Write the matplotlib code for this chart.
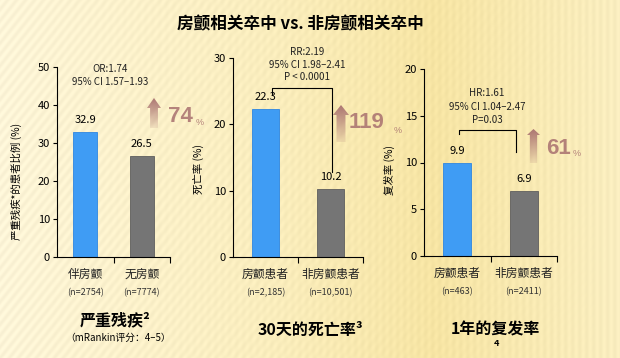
import numpy as np
import matplotlib
matplotlib.use("Agg")
import matplotlib.pyplot as plt
from matplotlib.patches import Polygon

plt.rcParams['font.family'] = ['Noto Sans CJK SC', 'DejaVu Sans']

W, H = 620, 358

TITLE = "房颤相关卒中 vs. 非房颤相关卒中"

# panel data
CATS_1 = ["伴房颤", "无房颤"]
N_1 = ["(n=2754)", "(n=7774)"]
VALS_1 = [32.9, 26.5]
CATS_2 = ["房颤患者", "非房颤患者"]
N_2 = ["(n=2,185)", "(n=10,501)"]
VALS_2 = [22.3, 10.2]
CATS_3 = ["房颤患者", "非房颤患者"]
N_3 = ["(n=463)", "(n=2411)"]
VALS_3 = [9.9, 6.9]

YLABELS = ["严重残疾*的患者比例 (%)", "死亡率 (%)", "复发率 (%)"]
YMAX = [50, 30, 20]
YSTEP = [10, 10, 5]
STATS = [["OR:1.74", "95% CI 1.57–1.93"],
         ["RR:2.19", "95% CI 1.98–2.41", "P < 0.0001"],
         ["HR:1.61", "95% CI 1.04–2.47", "P=0.03"]]
INCREASE = ["74", "119", "61"]

BLUE = "#3f9cf4"
GRAY = "#757575"
ROSE = "#a8706f"

fig = plt.figure(figsize=(W / 100, H / 100), dpi=100)

# background in pixel coordinates
bg = fig.add_axes([0, 0, 1, 1], zorder=-1)
bg.set_xlim(0, W)
bg.set_ylim(H, 0)
bg.axis("off")
xs = np.linspace(0, 1, W)
yy, xx = np.mgrid[0:H, 0:W]
stops = np.array([0, 0.45, 0.7, 1.0])
cols = np.array([[253, 245, 216], [250, 237, 188], [247, 229, 164], [250, 238, 192]]) / 255
img = np.stack([np.interp(xs, stops, cols[:, k]) for k in range(3)], axis=-1)
img = np.repeat(img[None, :, :], H, axis=0)
fx = xx / W
stripe = 0.02 * np.sin((xx + yy * 0.8) * 2 * np.pi / 9) * (1 - fx) \
    + 0.015 * np.sin(xx * 2 * np.pi / 7) * fx
img = np.clip(img + stripe[..., None], 0, 1)
bg.imshow(img, extent=(0, W, H, 0), aspect="auto")


def px(x, y):
    return x / W, 1 - y / H


fig.text(*px(300, 24), TITLE, ha="center", va="center", fontsize=12, fontweight="bold")


def up_arrow(x0, x1, top, neck, bottom):
    cx = (x0 + x1) / 2
    sw = (x1 - x0) * 0.28
    pts = [(cx, top), (x1, neck), (cx + sw, neck), (cx + sw, bottom),
           (cx - sw, bottom), (cx - sw, neck), (x0, neck)]
    poly = Polygon(pts, closed=True, facecolor="none", edgecolor="none")
    bg.add_patch(poly)
    grad = np.zeros((50, 2, 4))
    grad[..., :3] = matplotlib.colors.to_rgb(ROSE)
    grad[..., 3] = np.linspace(0.95, 0.15, 50)[:, None]
    im = bg.imshow(grad, extent=(x0, x1, bottom, top), aspect="auto")
    im.set_clip_path(poly)


def panel(rect, cats, ns, vals, ymax, ystep, ylabel, ylab_pos):
    left, top, right, bottom = rect
    ax = fig.add_axes([left / W, 1 - bottom / H, (right - left) / W, (bottom - top) / H])
    ax.patch.set_alpha(0)
    x = np.arange(len(vals))
    ax.bar(x, vals, width=0.42, color=[BLUE, GRAY], edgecolor=["#2f86e0", "#5e5e5e"], linewidth=0.6)
    ax.set_xlim(-0.5, 1.5)
    ax.set_ylim(0, ymax)
    ax.set_yticks(np.arange(0, ymax + 1, ystep))
    ax.tick_params(axis="y", labelsize=8, length=3, width=0.8, pad=2)
    ax.set_xticks(x)
    ax.set_xticklabels([])
    ax.tick_params(axis="x", which="major", length=0)
    ax.set_xticks([0.5, 1.5], minor=True)
    ax.tick_params(axis="x", which="minor", length=4, width=0.8, direction="out")
    for s in ("top", "right"):
        ax.spines[s].set_visible(False)
    for s in ("left", "bottom"):
        ax.spines[s].set_linewidth(0.8)
    ax.set_ylabel(ylabel, fontsize=7.5)
    ax.yaxis.set_label_coords(*ylab_pos)
    hpx = bottom - top
    for i, (c, n, v) in enumerate(zip(cats, ns, vals)):
        ax.text(i, v + 12 / hpx * ymax, f"{v}", ha="center", va="center", fontsize=8)
        ax.text(i, -17 / hpx, c, ha="center", va="center", fontsize=8.5,
                transform=ax.get_xaxis_transform(), color="#222222")
        ax.text(i, -36 / hpx, n, ha="center", va="center", fontsize=6.5,
                transform=ax.get_xaxis_transform(), color="#333333")
    return ax


ax1 = panel((57, 67, 170, 257), CATS_1, N_1, VALS_1, YMAX[0], YSTEP[0], YLABELS[0], (-0.31, 0.40))
ax2 = panel((233, 58, 363, 257), CATS_2, N_2, VALS_2, YMAX[1], YSTEP[1], YLABELS[1], (-0.22, 0.44))
ax3 = panel((424, 69, 557, 256), CATS_3, N_3, VALS_3, YMAX[2], YSTEP[2], YLABELS[2], (-0.22, 0.46))

# brackets (data coordinates)
ax2.plot([0.1, 0.1, 1.02, 1.02], [24.6, 25.5, 25.5, 12.8], color="black", lw=0.8, clip_on=False)
ax3.plot([0.03, 0.03, 0.88, 0.88], [13.0, 13.5, 13.5, 11.1], color="black", lw=0.8, clip_on=False)

# statistics text
for (sx, sy, dy), lines in zip([(110, 69, 13), (307, 52, 12.5), (487, 93, 13.5)], STATS):
    for k, line in enumerate(lines):
        fig.text(*px(sx, sy + k * dy), line, ha="center", va="center", fontsize=7, color="#222222")

# increase arrows
for (ax0, ax1_, t, nk, b), (tx, ty), num, (pxp, pyp) in zip(
        [(147, 161, 98, 108, 128), (333, 349, 105, 115, 142), (527, 540, 129, 135, 163)],
        [(168, 117), (349, 123), (546, 149)], INCREASE, [(196, 123), (394, 131), (573, 153)]):
    up_arrow(ax0, ax1_, t, nk, b)
    fig.text(*px(tx, ty), num, ha="left", va="center", fontsize=16, fontweight="bold",
             color=ROSE, alpha=0.85, family="Liberation Sans")
    fig.text(*px(pxp, pyp), "%", ha="left", va="center", fontsize=6.5, color=ROSE, alpha=0.85,
             family="Liberation Sans")

# panel subtitles
fig.text(*px(115, 320), "严重残疾²", ha="center", va="center", fontsize=11.5, fontweight="bold")
fig.text(*px(118, 338), "（mRankin评分：4–5）", ha="center", va="center", fontsize=7)
fig.text(*px(310, 330), "30天的死亡率³", ha="center", va="center", fontsize=11.5, fontweight="bold")
fig.text(*px(495, 330), "1年的复发率", ha="center", va="center", fontsize=11.5, fontweight="bold")
fig.text(*px(496, 344), "4", ha="center", va="center", fontsize=6.5, fontweight="bold")

fig.savefig("out.png", dpi=100)
